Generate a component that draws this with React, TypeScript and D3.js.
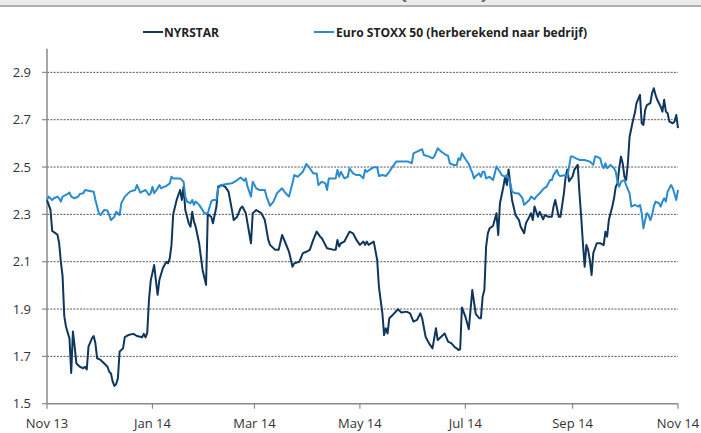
import React from "react";
import * as d3 from "d3";

const NYRSTAR: [string, number][] = [
["2013-11-01",2.36],["2013-11-03",2.32],["2013-11-04",2.23],["2013-11-06",2.22],["2013-11-07",2.215],["2013-11-08",2.18],["2013-11-09",2.10],["2013-11-10",2.04],["2013-11-11",1.87],["2013-11-12",1.825],["2013-11-13",1.80],["2013-11-14",1.776],["2013-11-15",1.63],["2013-11-16",1.805],["2013-11-17",1.74],["2013-11-18",1.67],["2013-11-20",1.656],["2013-11-22",1.65],["2013-11-23",1.656],["2013-11-24",1.645],["2013-11-25",1.741],["2013-11-27",1.776],["2013-11-28",1.786],["2013-11-29",1.755],["2013-11-30",1.692],
["2013-12-02",1.685],["2013-12-04",1.671],["2013-12-06",1.656],["2013-12-07",1.635],["2013-12-08",1.628],["2013-12-09",1.593],["2013-12-10",1.575],["2013-12-11",1.583],["2013-12-12",1.607],["2013-12-13",1.72],["2013-12-15",1.734],["2013-12-16",1.781],["2013-12-18",1.79],["2013-12-21",1.795],["2013-12-23",1.786],["2013-12-26",1.781],["2013-12-27",1.795],["2013-12-28",1.78],["2013-12-29",1.80],["2013-12-30",1.94],["2013-12-31",2.02],
["2014-01-02",2.086],["2014-01-03",2.02],["2014-01-04",1.96],["2014-01-05",2.023],["2014-01-07",2.072],["2014-01-09",2.10],["2014-01-10",2.093],["2014-01-11",2.114],["2014-01-12",2.17],["2014-01-13",2.30],["2014-01-15",2.361],["2014-01-17",2.403],["2014-01-18",2.361],["2014-01-19",2.417],["2014-01-20",2.318],["2014-01-22",2.262],["2014-01-23",2.248],["2014-01-24",2.311],["2014-01-25",2.269],["2014-01-26",2.248],["2014-01-28",2.178],["2014-01-30",2.065],
["2014-02-01",2.002],["2014-02-02",2.30],["2014-02-04",2.29],["2014-02-05",2.262],["2014-02-07",2.333],["2014-02-08",2.417],["2014-02-10",2.424],["2014-02-12",2.417],["2014-02-14",2.396],["2014-02-16",2.318],["2014-02-17",2.276],["2014-02-19",2.29],["2014-02-21",2.326],["2014-02-22",2.333],["2014-02-24",2.305],["2014-02-25",2.262],["2014-02-27",2.178],["2014-02-28",2.305],
["2014-03-02",2.318],["2014-03-05",2.305],["2014-03-07",2.276],["2014-03-09",2.192],["2014-03-10",2.171],["2014-03-13",2.15],["2014-03-15",2.15],["2014-03-17",2.213],["2014-03-19",2.178],["2014-03-21",2.142],["2014-03-23",2.079],["2014-03-24",2.093],["2014-03-27",2.10],["2014-03-29",2.136],["2014-03-31",2.142],
["2014-04-02",2.15],["2014-04-04",2.192],["2014-04-06",2.227],["2014-04-08",2.206],["2014-04-09",2.199],["2014-04-12",2.157],["2014-04-16",2.15],["2014-04-17",2.15],["2014-04-18",2.192],["2014-04-19",2.164],["2014-04-20",2.178],["2014-04-22",2.185],["2014-04-25",2.227],["2014-04-27",2.22],["2014-04-29",2.192],
["2014-05-01",2.171],["2014-05-03",2.185],["2014-05-04",2.171],["2014-05-05",2.185],["2014-05-06",2.171],["2014-05-09",2.185],["2014-05-11",2.107],["2014-05-12",1.994],["2014-05-14",1.882],["2014-05-15",1.79],["2014-05-16",1.819],["2014-05-17",1.797],["2014-05-18",1.861],["2014-05-20",1.875],["2014-05-23",1.899],["2014-05-25",1.885],["2014-05-28",1.889],["2014-05-30",1.882],
["2014-06-01",1.847],["2014-06-03",1.854],["2014-06-05",1.882],["2014-06-06",1.861],["2014-06-08",1.783],["2014-06-10",1.755],["2014-06-12",1.734],["2014-06-14",1.819],["2014-06-15",1.769],["2014-06-17",1.783],["2014-06-19",1.797],["2014-06-21",1.762],["2014-06-23",1.755],["2014-06-25",1.738],["2014-06-26",1.734],["2014-06-27",1.727],["2014-06-28",1.73],["2014-06-29",1.907],
["2014-07-01",1.868],["2014-07-03",1.815],["2014-07-05",1.98],["2014-07-07",1.88],["2014-07-09",1.861],["2014-07-10",1.861],["2014-07-11",1.952],["2014-07-12",1.98],["2014-07-13",2.164],["2014-07-14",2.22],["2014-07-15",2.241],["2014-07-17",2.251],["2014-07-19",2.305],["2014-07-20",2.213],["2014-07-21",2.347],["2014-07-23",2.417],["2014-07-24",2.459],["2014-07-25",2.424],["2014-07-26",2.49],["2014-07-28",2.361],["2014-07-30",2.297],
["2014-08-01",2.276],["2014-08-02",2.248],["2014-08-04",2.22],["2014-08-05",2.262],["2014-08-07",2.29],["2014-08-08",2.305],["2014-08-09",2.276],["2014-08-10",2.333],["2014-08-12",2.29],["2014-08-13",2.311],["2014-08-15",2.279],["2014-08-16",2.297],["2014-08-18",2.29],["2014-08-20",2.29],["2014-08-21",2.333],["2014-08-22",2.361],["2014-08-24",2.29],["2014-08-25",2.29],["2014-08-27",2.389],["2014-08-28",2.459],["2014-08-29",2.49],["2014-08-30",2.44],
["2014-09-01",2.46],["2014-09-02",2.488],["2014-09-04",2.509],["2014-09-05",2.39],["2014-09-06",2.29],["2014-09-07",2.178],["2014-09-08",2.079],["2014-09-09",2.171],["2014-09-10",2.15],["2014-09-11",2.107],["2014-09-12",2.044],["2014-09-13",2.136],["2014-09-15",2.178],["2014-09-17",2.178],["2014-09-19",2.17],["2014-09-20",2.227],["2014-09-21",2.206],["2014-09-22",2.276],["2014-09-24",2.333],["2014-09-25",2.368],["2014-09-26",2.417],["2014-09-27",2.43],["2014-09-28",2.495],["2014-09-29",2.544],["2014-09-30",2.516],
["2014-10-01",2.459],["2014-10-02",2.445],["2014-10-03",2.516],["2014-10-04",2.628],["2014-10-06",2.699],["2014-10-07",2.727],["2014-10-08",2.77],["2014-10-10",2.805],["2014-10-11",2.685],["2014-10-12",2.678],["2014-10-13",2.741],["2014-10-14",2.762],["2014-10-16",2.77],["2014-10-17",2.812],["2014-10-18",2.833],["2014-10-19",2.805],["2014-10-20",2.784],["2014-10-22",2.755],["2014-10-23",2.734],["2014-10-24",2.784],["2014-10-25",2.734],["2014-10-26",2.727],["2014-10-27",2.692],["2014-10-29",2.685],["2014-10-30",2.692],["2014-10-31",2.72],["2014-11-01",2.664]
];

const STOXX: [string, number][] = [
["2013-11-01",2.361],["2013-11-02",2.375],["2013-11-04",2.361],["2013-11-05",2.368],["2013-11-07",2.375],["2013-11-08",2.368],["2013-11-09",2.354],["2013-11-10",2.375],["2013-11-12",2.382],["2013-11-14",2.392],["2013-11-15",2.375],["2013-11-17",2.368],["2013-11-19",2.375],["2013-11-20",2.386],["2013-11-22",2.389],["2013-11-23",2.403],["2013-11-25",2.40],["2013-11-28",2.396],["2013-11-29",2.361],
["2013-12-01",2.305],["2013-12-02",2.297],["2013-12-04",2.318],["2013-12-06",2.316],["2013-12-07",2.297],["2013-12-08",2.276],["2013-12-10",2.29],["2013-12-11",2.311],["2013-12-13",2.297],["2013-12-14",2.347],["2013-12-16",2.375],["2013-12-19",2.396],["2013-12-22",2.403],["2013-12-23",2.424],["2013-12-25",2.392],["2013-12-26",2.396],["2013-12-28",2.403],["2013-12-30",2.382],["2013-12-31",2.389],
["2014-01-01",2.417],["2014-01-02",2.389],["2014-01-04",2.41],["2014-01-05",2.424],["2014-01-06",2.41],["2014-01-08",2.417],["2014-01-09",2.42],["2014-01-11",2.431],["2014-01-12",2.459],["2014-01-13",2.452],["2014-01-17",2.452],["2014-01-19",2.438],["2014-01-20",2.375],["2014-01-21",2.354],["2014-01-23",2.347],["2014-01-24",2.361],["2014-01-25",2.34],["2014-01-26",2.354],["2014-01-28",2.34],["2014-01-30",2.318],["2014-01-31",2.305],
["2014-02-02",2.305],["2014-02-04",2.354],["2014-02-05",2.361],["2014-02-07",2.361],["2014-02-08",2.41],["2014-02-10",2.424],["2014-02-13",2.428],["2014-02-16",2.431],["2014-02-19",2.445],["2014-02-21",2.456],["2014-02-23",2.442],["2014-02-24",2.452],["2014-02-25",2.417],["2014-02-27",2.375],["2014-02-28",2.438],
["2014-03-02",2.41],["2014-03-04",2.403],["2014-03-07",2.403],["2014-03-08",2.375],["2014-03-10",2.336],["2014-03-12",2.354],["2014-03-14",2.389],["2014-03-17",2.41],["2014-03-19",2.389],["2014-03-21",2.375],["2014-03-23",2.431],["2014-03-24",2.466],["2014-03-26",2.459],["2014-03-28",2.473],["2014-03-29",2.48],["2014-03-31",2.513],
["2014-04-02",2.495],["2014-04-04",2.473],["2014-04-06",2.473],["2014-04-07",2.424],["2014-04-09",2.438],["2014-04-11",2.431],["2014-04-12",2.403],["2014-04-13",2.452],["2014-04-17",2.452],["2014-04-18",2.488],["2014-04-19",2.459],["2014-04-20",2.48],["2014-04-22",2.452],["2014-04-24",2.459],["2014-04-25",2.495],["2014-04-27",2.473],["2014-04-29",2.466],
["2014-05-01",2.466],["2014-05-03",2.452],["2014-05-04",2.488],["2014-05-05",2.48],["2014-05-07",2.49],["2014-05-09",2.499],["2014-05-11",2.499],["2014-05-12",2.462],["2014-05-14",2.466],["2014-05-16",2.462],["2014-05-18",2.48],["2014-05-20",2.502],["2014-05-22",2.523],["2014-05-25",2.523],["2014-05-29",2.523],["2014-05-31",2.516],
["2014-06-01",2.558],["2014-06-03",2.565],["2014-06-06",2.575],["2014-06-07",2.551],["2014-06-10",2.544],["2014-06-12",2.537],["2014-06-13",2.544],["2014-06-15",2.579],["2014-06-17",2.565],["2014-06-19",2.555],["2014-06-21",2.547],["2014-06-22",2.516],["2014-06-24",2.509],["2014-06-26",2.509],["2014-06-27",2.537],["2014-06-28",2.53],["2014-06-29",2.558],
["2014-07-01",2.534],["2014-07-03",2.513],["2014-07-04",2.492],["2014-07-05",2.477],["2014-07-06",2.452],["2014-07-07",2.462],["2014-07-09",2.473],["2014-07-10",2.459],["2014-07-11",2.48],["2014-07-12",2.48],["2014-07-13",2.452],["2014-07-15",2.459],["2014-07-17",2.445],["2014-07-18",2.473],["2014-07-19",2.502],["2014-07-21",2.48],["2014-07-22",2.466],["2014-07-24",2.459],["2014-07-25",2.466],["2014-07-26",2.452],["2014-07-27",2.431],["2014-07-28",2.396],["2014-07-30",2.389],
["2014-08-01",2.388],["2014-08-03",2.369],["2014-08-04",2.34],["2014-08-05",2.347],["2014-08-07",2.361],["2014-08-08",2.375],["2014-08-10",2.364],["2014-08-11",2.375],["2014-08-13",2.389],["2014-08-15",2.407],["2014-08-17",2.417],["2014-08-18",2.431],["2014-08-19",2.445],["2014-08-20",2.445],["2014-08-21",2.466],["2014-08-23",2.488],["2014-08-24",2.466],["2014-08-25",2.462],["2014-08-28",2.466],["2014-08-29",2.459],["2014-08-30",2.502],["2014-08-31",2.544],
["2014-09-01",2.544],["2014-09-03",2.537],["2014-09-05",2.53],["2014-09-08",2.53],["2014-09-11",2.523],["2014-09-13",2.509],["2014-09-14",2.544],["2014-09-15",2.544],["2014-09-17",2.537],["2014-09-18",2.509],["2014-09-19",2.495],["2014-09-20",2.516],["2014-09-21",2.495],["2014-09-23",2.509],["2014-09-25",2.495],["2014-09-26",2.48],["2014-09-27",2.438],["2014-09-28",2.417],["2014-09-29",2.438],
["2014-10-01",2.445],["2014-10-02",2.424],["2014-10-04",2.389],["2014-10-05",2.333],["2014-10-07",2.34],["2014-10-09",2.333],["2014-10-10",2.34],["2014-10-11",2.305],["2014-10-12",2.241],["2014-10-13",2.276],["2014-10-14",2.305],["2014-10-15",2.297],["2014-10-16",2.276],["2014-10-17",2.297],["2014-10-18",2.333],["2014-10-19",2.354],["2014-10-21",2.347],["2014-10-22",2.333],["2014-10-23",2.354],["2014-10-24",2.368],["2014-10-25",2.354],["2014-10-26",2.396],["2014-10-28",2.424],["2014-10-29",2.41],["2014-10-31",2.361],["2014-11-01",2.403]
];

const Y_TICKS = [1.5, 1.7, 1.9, 2.1, 2.3, 2.5, 2.7, 2.9];
const X_TICKS = ["2013-11-01", "2014-01-01", "2014-03-01", "2014-05-01", "2014-07-01", "2014-09-01", "2014-11-01"];
const X_LABELS = ["Nov 13", "Jan 14", "Mar 14", "May 14", "Jul 14", "Sep 14", "Nov 14"];
const SERIES_NAMES = ["NYRSTAR", "Euro STOXX 50 (herberekend naar bedrijf)"];
const COLORS = ["#0f365d", "#2a8bd0"];

const parse = d3.timeParse("%Y-%m-%d");

export default function App() {
  const W = 701, H = 433;
  const left = 47, right = 678, top = 48.7, bottom = 403.7;
  const x = d3.scaleTime().domain([parse("2013-11-01")!, parse("2014-11-01")!]).range([left, right]);
  const y = d3.scaleLinear().domain([1.5, 3.0]).range([bottom, top]);
  const line = d3.line<[string, number]>().x(d => x(parse(d[0])!)).y(d => y(d[1]));
  const font = "'Open Sans', sans-serif";

  return (
    <div>
      <style>{`body{margin:0}`}</style>
      <svg width={W} height={H} style={{ display: "block", background: "#fff" }} fontFamily={font}>
        <rect x={0} y={0} width={W} height={6} fill="#ececec" />
        <line x1={0} x2={W} y1={6} y2={6} stroke="#9a9a9a" strokeWidth={1.5} />
        <text x={400} y={0} fontSize={16} fontWeight="bold" fill="#666" textLength={88} lengthAdjust="spacingAndGlyphs">(in EUR)</text>

        {/* legend */}
        <line x1={143} x2={163} y1={32} y2={32} stroke={COLORS[0]} strokeWidth={2} />
        <text x={164} y={36.5} fontSize={12} fontWeight="bold" fill="#222" textLength={55} lengthAdjust="spacingAndGlyphs">{SERIES_NAMES[0]}</text>
        <line x1={314} x2={334} y1={32} y2={32} stroke={COLORS[1]} strokeWidth={2} />
        <text x={336} y={36.5} fontSize={12} fontWeight="bold" fill="#222" textLength={251} lengthAdjust="spacingAndGlyphs">{SERIES_NAMES[1]}</text>

        {/* gridlines */}
        {Y_TICKS.filter(t => t > 1.5).map(t => (
          <line key={t} x1={left} x2={right} y1={y(t)} y2={y(t)} stroke="#555" strokeWidth={1} strokeDasharray="2,1.3" />
        ))}

        {/* axes */}
        <line x1={left} x2={left} y1={top} y2={bottom} stroke="#8a8a8a" strokeWidth={1.5} />
        <line x1={left} x2={right} y1={bottom} y2={bottom} stroke="#8a8a8a" strokeWidth={1.5} />
        {Y_TICKS.map(t => (
          <g key={t}>
            <line x1={left - 5} x2={left} y1={y(t)} y2={y(t)} stroke="#8a8a8a" strokeWidth={1.2} />
            <text x={31} y={y(t)} dy="0.35em" textAnchor="end" fontSize={13} fill="#333">{t.toFixed(1)}</text>
          </g>
        ))}
        {X_TICKS.map((t, i) => {
          const xp = x(parse(t)!);
          return (
            <g key={t}>
              <line x1={xp} x2={xp} y1={bottom} y2={bottom + 5} stroke="#8a8a8a" strokeWidth={1.2} />
              <text x={xp} y={428} textAnchor="middle" fontSize={13} fill="#333">{X_LABELS[i]}</text>
            </g>
          );
        })}

        {/* series */}
        <path d={line(NYRSTAR) || ""} fill="none" stroke={COLORS[0]} strokeWidth={2} strokeLinejoin="round" />
        <path d={line(STOXX) || ""} fill="none" stroke={COLORS[1]} strokeWidth={2} strokeLinejoin="round" />
      </svg>
    </div>
  );
}
